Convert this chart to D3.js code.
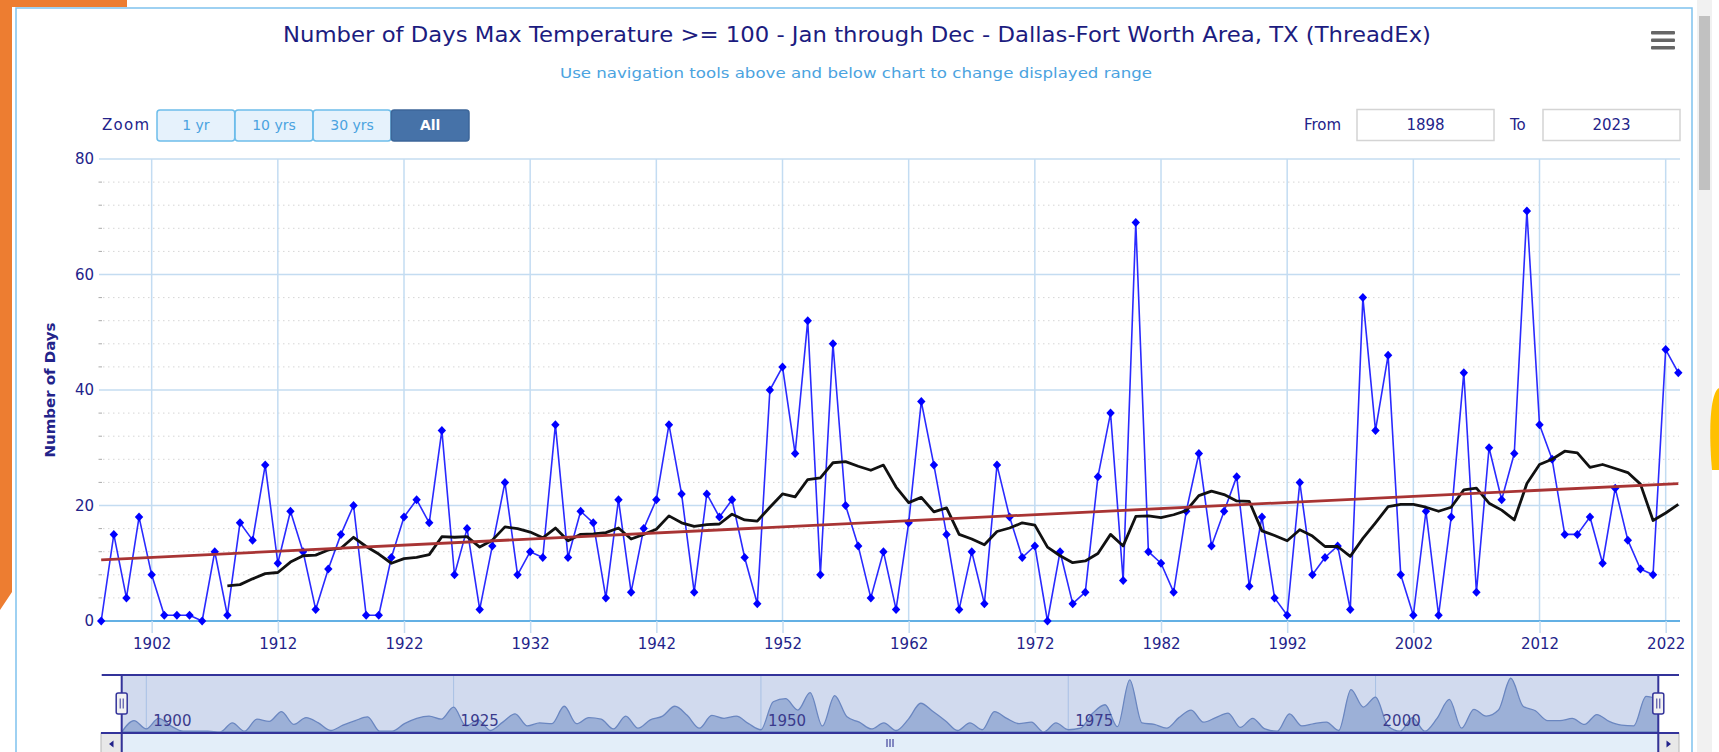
<!DOCTYPE html>
<html>
<head>
<meta charset="utf-8">
<title>Days Max Temperature >= 100 - DFW</title>
<style>
  body { margin: 0; background: #fff; overflow: hidden; }
  svg text { font-family: "DejaVu Sans", sans-serif; }
</style>
</head>
<body>
<svg id="chart" width="1719" height="752"></svg>

<script src="https://d3js.org/d3.v7.min.js"></script>
<script>

// ---- data ----
const firstYear = 1898;
const lastYear = 2023;

const daysOver100 = [
  0, 15, 4, 18, 8, 1, 1, 1, 0, 12,          // 1898-1907
  1, 17, 14, 27, 10, 19, 12, 2, 9, 15,      // 1908-1917
  20, 1, 1, 11, 18, 21, 17, 33, 8, 16,      // 1918-1927
  2, 13, 24, 8, 12, 11, 34, 11, 19, 17,     // 1928-1937
  4, 21, 5, 16, 21, 34, 22, 5, 22, 18,      // 1938-1947
  21, 11, 3, 40, 44, 29, 52, 8, 48, 20,     // 1948-1957
  13, 4, 12, 2, 17, 38, 27, 15, 2, 12,      // 1958-1967
  3, 27, 18, 11, 13, 0, 12, 3, 5, 25,       // 1968-1977
  36, 7, 69, 12, 10, 5, 19, 29, 13, 19,     // 1978-1987
  25, 6, 18, 4, 1, 24, 8, 11, 13, 2,        // 1988-1997
  56, 33, 46, 8, 1, 19, 1, 18, 43, 5,       // 1998-2007
  30, 21, 29, 71, 34, 28, 15, 15, 18, 10,   // 2008-2017
  23, 14, 9, 8, 47, 43                      // 2018-2023
];

// 10-year running mean (black line), starts in 1908
const avgStartYear = 1908;
const tenYearMean = [
  6.1, 6.3, 7.3, 8.2, 8.4, 10.2, 11.3, 11.4, 12.3, 12.6,
  14.5, 12.9, 11.6, 10.0, 10.8, 11.0, 11.5, 14.6, 14.5, 14.6,
  12.8, 14.0, 16.3, 16.0, 15.4, 14.4, 16.1, 13.9, 15.0, 15.1,
  15.3, 16.1, 14.2, 15.0, 15.9, 18.2, 17.0, 16.4, 16.7, 16.8,
  18.5, 17.5, 17.3, 19.7, 22.0, 21.5, 24.5, 24.8, 27.4, 27.6,
  26.8, 26.1, 27.0, 23.2, 20.5, 21.4, 18.9, 19.6, 15.0, 14.2,
  13.2, 15.5, 16.1, 17.0, 16.6, 12.8, 11.3, 10.1, 10.4, 11.7,
  15.0, 13.0, 18.1, 18.2, 17.9, 18.4, 19.1, 21.7, 22.5, 21.9,
  20.8, 20.7, 15.6, 14.8, 13.9, 15.8, 14.7, 12.9, 12.9, 11.2,
  14.3, 17.0, 19.8, 20.2, 20.2, 19.7, 19.0, 19.7, 22.7, 23.0,
  20.4, 19.2, 17.5, 23.8, 27.1, 28.0, 29.4, 29.1, 26.6, 27.1,
  26.4, 25.7, 23.7, 17.4, 18.7, 20.2
];

// linear trend (red line) end points
const trendYears = [1898, 2023];
const trendValues = [10.6, 23.8];

const xTickYears = [1902, 1912, 1922, 1932, 1942, 1952, 1962, 1972, 1982, 1992, 2002, 2012, 2022];
const yTickValues = [0, 20, 40, 60, 80];
const navLabelYears = [1900, 1925, 1950, 1975, 2000];
const zoomButtons = ['1 yr', '10 yrs', '30 yrs', 'All'];

const titleText = 'Number of Days Max Temperature >= 100 - Jan through Dec - Dallas-Fort Worth Area, TX (ThreadEx)';
const subtitleText = 'Use navigation tools above and below chart to change displayed range';

// ---- drawing ----
const svg = d3.select('#chart');
const navy = '#23238a';

const mainSeries = daysOver100.map((v, i) => ({ year: firstYear + i, value: v }));
const meanSeries = tenYearMean.map((v, i) => ({ year: avgStartYear + i, value: v }));
const trendSeries = trendYears.map((yr, i) => ({ year: yr, value: trendValues[i] }));

// page decorations
svg.append('path').attr('d', 'M0,0H127V7H12V592L0,610Z').attr('fill', '#ed7d31');
svg.append('rect').attr('x', 1697).attr('y', 0).attr('width', 15).attr('height', 752).attr('fill', '#f1f1f1');
svg.append('rect').attr('x', 1699).attr('y', 16).attr('width', 11).attr('height', 174).attr('fill', '#c1c1c1');
svg.append('path').attr('d', 'M1719,388C1711,392 1708,425 1712,470L1719,470Z').attr('fill', '#ffc000');

// chart container
svg.append('path')
    .attr('d', 'M16,760V8H1692V760')
    .attr('fill', 'none')
    .attr('stroke', '#7fc2ee')
    .attr('stroke-width', 1.5);

// title + subtitle
svg.append('text')
    .attr('x', 283).attr('y', 41.5)
    .attr('font-size', 21)
    .attr('fill', '#1c1c80')
    .attr('textLength', 1148)
    .attr('lengthAdjust', 'spacingAndGlyphs')
    .text(titleText);

svg.append('text')
    .attr('x', 560).attr('y', 78)
    .attr('font-size', 14)
    .attr('fill', '#4ba3e0')
    .attr('textLength', 592)
    .attr('lengthAdjust', 'spacingAndGlyphs')
    .text(subtitleText);

// hamburger menu
svg.append('g').selectAll('rect')
    .data([31, 38.5, 46])
    .join('rect')
        .attr('x', 1651).attr('y', d => d)
        .attr('width', 24).attr('height', 3.5)
        .attr('rx', 1)
        .attr('fill', '#666');

// range selector
svg.append('text')
    .attr('x', 102).attr('y', 130)
    .attr('font-size', 15)
    .attr('fill', navy)
    .attr('textLength', 47)
    .text('Zoom');

const btnScale = d3.scaleBand()
    .domain(zoomButtons)
    .range([157, 469])
    .paddingInner(0.005);

const btns = svg.append('g').attr('class', 'buttons')
    .selectAll('g')
    .data(zoomButtons)
    .join('g')
        .attr('transform', d => `translate(${btnScale(d)},110)`);

btns.append('rect')
    .attr('width', btnScale.bandwidth())
    .attr('height', 31)
    .attr('rx', 3)
    .attr('fill', d => d === 'All' ? '#4672a8' : '#e6f2fc')
    .attr('stroke', d => d === 'All' ? '#3d6699' : '#6dbdea')
    .attr('stroke-width', 1.5);

btns.append('text')
    .attr('x', btnScale.bandwidth() / 2)
    .attr('y', 20)
    .attr('text-anchor', 'middle')
    .attr('font-size', 14)
    .attr('font-weight', d => d === 'All' ? 'bold' : 'normal')
    .attr('fill', d => d === 'All' ? '#fff' : '#4ba3e0')
    .text(d => d);

const inputs = [
    { label: 'From', lx: 1304, bx: 1357, value: firstYear },
    { label: 'To', lx: 1510, bx: 1543, value: lastYear }
];
const inp = svg.append('g').selectAll('g').data(inputs).join('g');
inp.append('text')
    .attr('x', d => d.lx).attr('y', 130)
    .attr('font-size', 15)
    .attr('fill', navy)
    .text(d => d.label);
inp.append('rect')
    .attr('x', d => d.bx).attr('y', 109.5)
    .attr('width', 137).attr('height', 31)
    .attr('fill', '#fff')
    .attr('stroke', '#d4d4d4')
    .attr('stroke-width', 1.5);
inp.append('text')
    .attr('x', d => d.bx + 68.5).attr('y', 130)
    .attr('text-anchor', 'middle')
    .attr('font-size', 15)
    .attr('fill', navy)
    .text(d => d.value);

// ---- main plot ----
const x = d3.scaleLinear().domain([firstYear, lastYear]).range([101.2, 1678.3]);
const y = d3.scaleLinear().domain([0, 80]).range([621, 159]);

const grid = svg.append('g').attr('class', 'grid');

// minor dotted lines every 4 days
const minorTicks = d3.range(0, 81, 4).filter(v => v % 20 !== 0);
grid.selectAll('.minor')
    .data(minorTicks)
    .join('line')
        .attr('class', 'minor')
        .attr('x1', 103).attr('x2', 1679)
        .attr('y1', d => y(d)).attr('y2', d => y(d))
        .attr('stroke', '#d6d6d6')
        .attr('stroke-dasharray', '1.5,3.5');
grid.selectAll('.minortick')
    .data(minorTicks)
    .join('line')
        .attr('class', 'minortick')
        .attr('x1', 98.5).attr('x2', 102)
        .attr('y1', d => y(d)).attr('y2', d => y(d))
        .attr('stroke', '#aaa');

// vertical grid
grid.selectAll('.vgrid')
    .data(xTickYears)
    .join('line')
        .attr('class', 'vgrid')
        .attr('x1', d => x(d)).attr('x2', d => x(d))
        .attr('y1', 159).attr('y2', 621)
        .attr('stroke', '#c3dcf2')
        .attr('stroke-width', 1.5);

// major horizontal grid
grid.selectAll('.hgrid')
    .data(yTickValues)
    .join('line')
        .attr('class', 'hgrid')
        .attr('x1', 99).attr('x2', 1680)
        .attr('y1', d => y(d)).attr('y2', d => y(d))
        .attr('stroke', d => d === 0 ? '#63b0e4' : '#c4dcf1')
        .attr('stroke-width', d => d === 0 ? 2 : 1.5);

// axes
svg.append('g')
    .attr('class', 'x-axis')
    .attr('transform', 'translate(0,621)')
    .call(d3.axisBottom(x)
        .tickValues(xTickYears)
        .tickFormat(d3.format('d'))
        .tickSize(12)
        .tickPadding(5))
    .call(g => g.select('.domain').remove())
    .call(g => g.selectAll('.tick line').attr('stroke', '#c3dcf2').attr('stroke-width', 1.5))
    .call(g => g.selectAll('.tick text')
        .attr('font-family', '"DejaVu Sans", sans-serif')
        .attr('font-size', 15)
        .attr('fill', navy));

svg.append('g')
    .attr('class', 'y-axis')
    .attr('transform', 'translate(101,0)')
    .call(d3.axisLeft(y)
        .tickValues(yTickValues)
        .tickSize(0)
        .tickPadding(7))
    .call(g => g.select('.domain').remove())
    .call(g => g.selectAll('.tick text')
        .attr('font-family', '"DejaVu Sans", sans-serif')
        .attr('font-size', 15)
        .attr('fill', navy));

svg.append('text')
    .attr('transform', 'translate(55,390) rotate(-90)')
    .attr('text-anchor', 'middle')
    .attr('font-size', 14.5)
    .attr('font-weight', 'bold')
    .attr('fill', navy)
    .attr('textLength', 135)
    .attr('lengthAdjust', 'spacingAndGlyphs')
    .text('Number of Days');

// series
const line = d3.line()
    .x(d => x(d.year))
    .y(d => y(d.value));

const series = svg.append('g').attr('class', 'series');

series.append('path')
    .datum(mainSeries)
    .attr('d', line)
    .attr('fill', 'none')
    .attr('stroke', '#2a2aff')
    .attr('stroke-width', 1.6)
    .attr('stroke-linejoin', 'round');

series.selectAll('.marker')
    .data(mainSeries)
    .join('path')
        .attr('class', 'marker')
        .attr('transform', d => `translate(${x(d.year)},${y(d.value)})`)
        .attr('d', 'M0,-4.5L4.2,0L0,4.5L-4.2,0Z')
        .attr('fill', '#0000ff');

series.append('path')
    .datum(meanSeries)
    .attr('d', line)
    .attr('fill', 'none')
    .attr('stroke', '#111')
    .attr('stroke-width', 2.8)
    .attr('stroke-linejoin', 'round');

series.append('path')
    .datum(trendSeries)
    .attr('d', line)
    .attr('fill', 'none')
    .attr('stroke', '#a83434')
    .attr('stroke-width', 2.8);

// ---- navigator ----
const nx = d3.scaleLinear().domain([firstYear, lastYear]).range([121.7, 1658.3]);
const ny = d3.scaleLinear().domain([0, 74]).range([732, 676]);

const nav = svg.append('g').attr('class', 'navigator');

nav.append('rect')
    .attr('x', nx(firstYear)).attr('y', 675)
    .attr('width', nx(lastYear) - nx(firstYear)).attr('height', 58)
    .attr('fill', '#d1daee');

nav.selectAll('.navgrid')
    .data(navLabelYears)
    .join('line')
        .attr('class', 'navgrid')
        .attr('x1', d => nx(d)).attr('x2', d => nx(d))
        .attr('y1', 676).attr('y2', 732)
        .attr('stroke', '#a8c0e4');

nav.append('path')
    .datum(mainSeries)
    .attr('d', d3.area()
        .curve(d3.curveMonotoneX)
        .x(d => nx(d.year))
        .y0(732)
        .y1(d => ny(d.value)))
    .attr('fill', '#9cb0d7')
    .attr('stroke', '#6a86c0')
    .attr('stroke-width', 1.3);

nav.selectAll('.navlabel')
    .data(navLabelYears)
    .join('text')
        .attr('class', 'navlabel')
        .attr('x', d => nx(d) + 7).attr('y', 726)
        .attr('font-size', 15)
        .attr('fill', '#3a3a8c')
        .text(d => d);

// scrollbar
nav.append('rect')
    .attr('x', 101).attr('y', 733)
    .attr('width', 1578).attr('height', 24)
    .attr('fill', '#e3eef9');
nav.selectAll('.sbtn')
    .data([101, 1658])
    .join('rect')
        .attr('class', 'sbtn')
        .attr('x', d => d).attr('y', 733)
        .attr('width', 21).attr('height', 24)
        .attr('fill', '#e8e8e8')
        .attr('stroke', '#b5b5b5');
nav.append('path').attr('d', 'M113.5,740.5L109,744L113.5,747.5Z').attr('fill', navy);
nav.append('path').attr('d', 'M1666.5,740.5L1671,744L1666.5,747.5Z').attr('fill', navy);
nav.selectAll('.grip')
    .data([887, 890, 893])
    .join('line')
        .attr('class', 'grip')
        .attr('x1', d => d).attr('x2', d => d)
        .attr('y1', 739).attr('y2', 747)
        .attr('stroke', navy);

// outline
nav.append('path')
    .attr('d', `M101.7,675H1679M${nx(firstYear)},675V733M${nx(lastYear)},675V752M101,733H1679`)
    .attr('fill', 'none')
    .attr('stroke', '#33339a')
    .attr('stroke-width', 2);
nav.append('path')
    .attr('d', `M${nx(firstYear)},733V752`)
    .attr('stroke', '#33339a')
    .attr('stroke-width', 2);

// handles
const handles = nav.selectAll('.handle')
    .data([firstYear, lastYear])
    .join('g')
        .attr('class', 'handle')
        .attr('transform', d => `translate(${nx(d)},703.5)`);
handles.append('rect')
    .attr('x', -5.5).attr('y', -10.5)
    .attr('width', 11).attr('height', 21)
    .attr('rx', 2)
    .attr('fill', '#f2f2f2')
    .attr('stroke', '#33339a')
    .attr('stroke-width', 1.5);
handles.append('path')
    .attr('d', 'M-1.5,-5V5M1.5,-5V5')
    .attr('stroke', '#33339a');

</script>
</body>
</html>
